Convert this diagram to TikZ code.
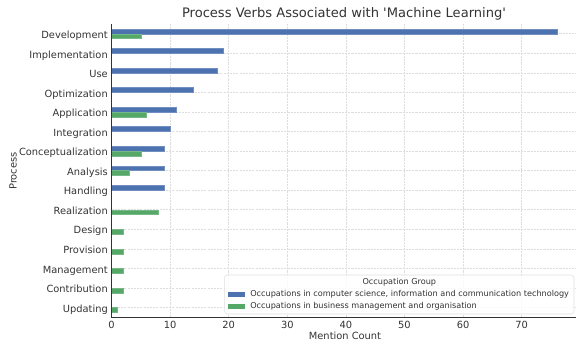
\documentclass[tikz,border=0pt]{standalone}
\usepackage{fontspec}
\setmainfont{DejaVu Sans}
\usepackage{tikz}

\definecolor{ictblue}{HTML}{4C72B0}
\definecolor{bizgreen}{HTML}{55A868}
\definecolor{inkgray}{HTML}{333333}
\definecolor{gridgray}{HTML}{DDDDDD}

\begin{document}
\begin{tikzpicture}[x=0.75pt,y=-0.75pt,text=inkgray,
  font=\fontsize{7.4}{9}\selectfont,
  catlabel/.style={anchor=base east,inner sep=0pt,xshift=-2.6pt,yshift=-3.5pt},
  ticklabel/.style={anchor=north,inner sep=0pt,yshift=-2.8pt},
  gridline/.style={draw=gridgray,line width=0.5pt,dash pattern=on 1.6pt off 0.8pt},
  ict/.style={fill=ictblue,draw=ictblue!80!white,line width=0.3pt},
  biz/.style={fill=bizgreen,draw=bizgreen!80!white,line width=0.3pt},
  legendtext/.style={anchor=west,inner sep=0pt,font=\fontsize{6.1}{7}\selectfont}]
\useasboundingbox (0,0) rectangle (576,345);

\node (title) at (344,14) {\fontsize{9.8}{11}\selectfont Process Verbs Associated with \textquotesingle Machine Learning\textquotesingle};
\node (xlabel) at (345,336) {Mention Count};
\node[rotate=90] (ylabel) at (13,171) {Process};

% data area: one x unit per mention, one y unit per process
\begin{scope}[shift={(111.5,33.8)},x=4.395pt,y=-14.6625pt]
% dashed grid
\foreach \v in {0,10,...,70}
  \draw[gridline] (\v,-0.5) -- (\v,14.5);
\foreach \i in {0,...,14}
  \draw[gridline] (0,\i) -- (79.3,\i);

% ICT occupations
\draw[ict] (0,-0.25) rectangle (76,0);
\draw[ict] (0,0.75) rectangle (19,1);
\draw[ict] (0,1.75) rectangle (18,2);
\draw[ict] (0,2.75) rectangle (14,3);
\draw[ict] (0,3.75) rectangle (11,4);
\draw[ict] (0,4.75) rectangle (10,5);
\draw[ict] (0,5.75) rectangle (9,6);
\draw[ict] (0,6.75) rectangle (9,7);
\draw[ict] (0,7.75) rectangle (9,8);

% business occupations
\draw[biz] (0,0) rectangle (5,0.25);
\draw[biz] (0,4) rectangle (6,4.25);
\draw[biz] (0,6) rectangle (5,6.25);
\draw[biz] (0,7) rectangle (3,7.25);
\draw[biz] (0,9) rectangle (8,9.25);
\draw[biz] (0,10) rectangle (2,10.25);
\draw[biz] (0,11) rectangle (2,11.25);
\draw[biz] (0,12) rectangle (2,12.25);
\draw[biz] (0,13) rectangle (2,13.25);
\draw[biz] (0,14) rectangle (1,14.25);

% axes
\draw[inkgray,line width=0.9pt] (0,-0.5) -- (0,14.5) -- (79.3,14.5);

\node[catlabel] (development) at (0,0) {Development};
\node[catlabel] (implementation) at (0,1) {Implementation};
\node[catlabel] (use) at (0,2) {Use};
\node[catlabel] (optimization) at (0,3) {Optimization};
\node[catlabel] (application) at (0,4) {Application};
\node[catlabel] (integration) at (0,5) {Integration};
\node[catlabel] (conceptualization) at (0,6) {Conceptualization};
\node[catlabel] (analysis) at (0,7) {Analysis};
\node[catlabel] (handling) at (0,8) {Handling};
\node[catlabel] (realization) at (0,9) {Realization};
\node[catlabel] (design) at (0,10) {Design};
\node[catlabel] (provision) at (0,11) {Provision};
\node[catlabel] (management) at (0,12) {Management};
\node[catlabel] (contribution) at (0,13) {Contribution};
\node[catlabel] (updating) at (0,14) {Updating};

\node[ticklabel] (t0) at (0,14.5) {0};
\node[ticklabel] (t10) at (10,14.5) {10};
\node[ticklabel] (t20) at (20,14.5) {20};
\node[ticklabel] (t30) at (30,14.5) {30};
\node[ticklabel] (t40) at (40,14.5) {40};
\node[ticklabel] (t50) at (50,14.5) {50};
\node[ticklabel] (t60) at (60,14.5) {60};
\node[ticklabel] (t70) at (70,14.5) {70};
\end{scope}

% legend
\draw[rounded corners=2pt,draw=gray!25,fill=white,fill opacity=0.85] (224.7,275) rectangle (574,314);
\node[font=\fontsize{6.1}{7}\selectfont] (legtitle) at (399.3,282) {Occupation Group};
\fill[ictblue] (228,291.7) rectangle (244.5,296.7);
\node[legendtext] (legict) at (250,294) {Occupations in computer science, information and communication technology};
\fill[bizgreen] (228,303.7) rectangle (244.5,308.7);
\node[legendtext] (legbiz) at (250,306.2) {Occupations in business management and organisation};
\end{tikzpicture}
\end{document}
